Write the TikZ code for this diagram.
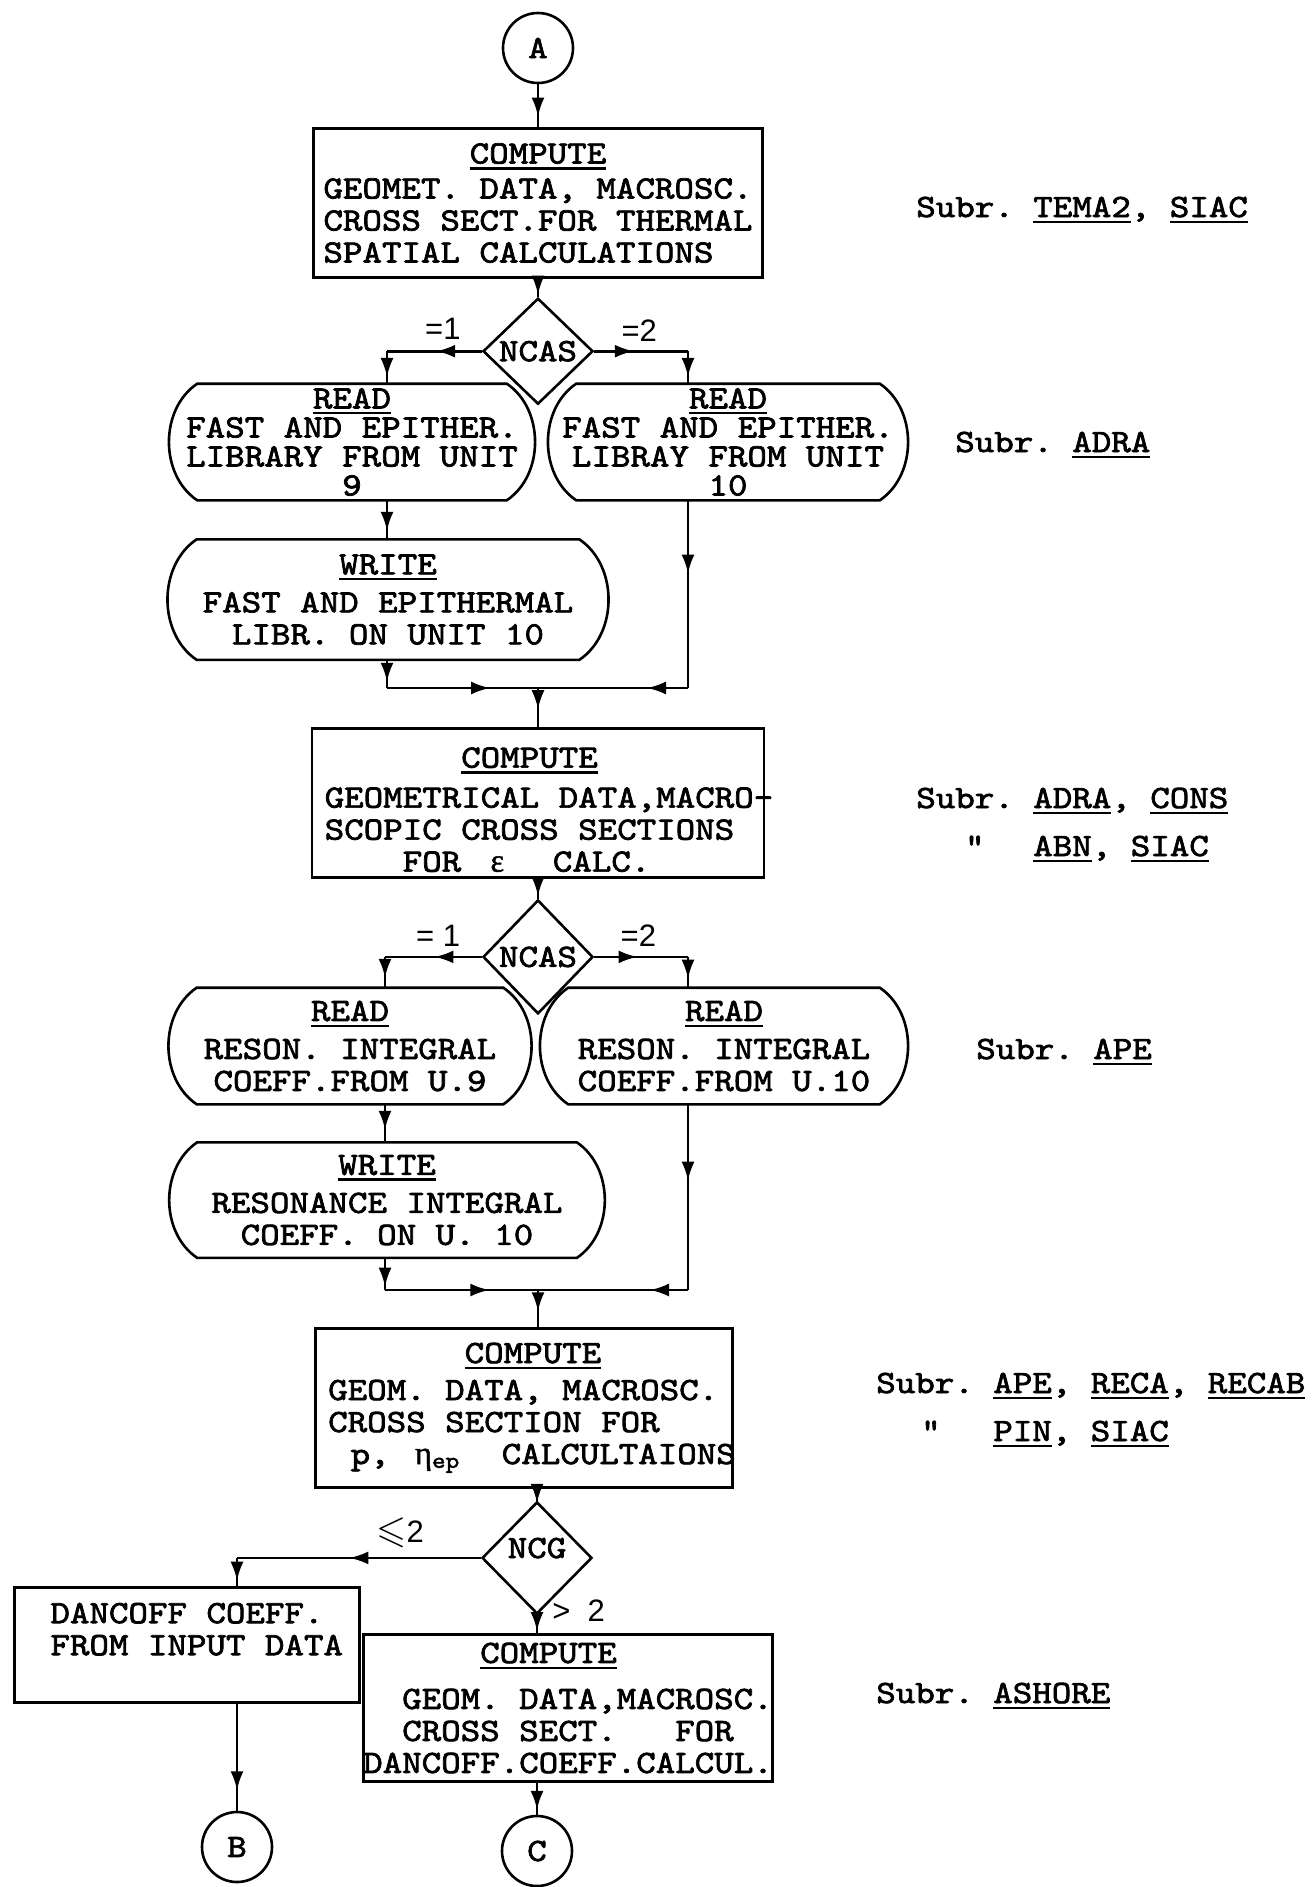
\documentclass[tikz,border=0pt]{standalone}
\usepackage{fontspec}
\usepackage{amssymb}
\newfontfamily\tw[FakeStretch=1.143, FakeBold=2.2]{lmmono10-regular.otf}
\newfontfamily\gk[FakeBold=1.5]{Liberation Serif}
\newfontfamily\hw{Liberation Sans}
\usetikzlibrary{arrows.meta, positioning, shapes.geometric, decorations.markings}
\newlength\chw
\setlength\chw{19.5pt}
\newcommand\ind[1]{\hspace*{#1\chw}}
\newcommand\ul[1]{\setbox0\hbox{#1}\rlap{\rule[-6pt]{\wd0}{2.4pt}}\box0}
\begin{document}
\frenchspacing
\begin{tikzpicture}[x=1pt, y=-1pt,
    line width=2.6pt,
    txt/.style={font=\tw\fontsize{32.5}{32}\selectfont},
    proc/.style={txt, draw, rectangle, inner sep=0pt, align=left},
    io/.style={txt, rectangle, inner sep=0pt, minimum height=114pt, align=center},
    test/.style={txt, draw, diamond, inner sep=0pt, minimum width=110pt},
    conn/.style={txt, draw, circle, inner sep=0pt, minimum size=70pt},
    lbl/.style={font=\hw\fontsize{31}{31}\selectfont, inner sep=0pt},
    note/.style={txt, anchor=base west, inner sep=0pt},
    arr/.style={postaction={decorate}, decoration={markings, mark=at position #1 with {\pgftransformxshift{9.5pt}\arrow{Latex[length=19pt, width=13pt]}}}},
    arr/.default=0.5,
  ]
  \useasboundingbox (0,0) rectangle (1314,1887);

  % columns of the side branches
  \coordinate (c1l) at (387,0);
  \coordinate (c1r) at (688,0);
  \coordinate (c2l) at (385,0);
  \coordinate (c2r) at (688,0);
  \coordinate (c3) at (237,0);

  % thermal part
  \node[conn] (A) at (538,48) {A};
  \node[proc, below=43pt of A, minimum width=449pt, minimum height=149pt] (b1)
    {\ind{7.5}\ul{COMPUTE}\\[3pt]GEOMET. DATA, MACROSC.\\CROSS SECT.FOR THERMAL\\SPATIAL CALCULATIONS};
  \node[test, below=18pt of b1, minimum height=106pt] (d1) {NCAS};
  \node[io, font=\tw\fontsize{32.5}{29}\selectfont, minimum width=367pt] (rl1) at (352,442)
    {\ul{READ}\\FAST AND EPITHER.\\LIBRARY FROM UNIT\\9};
  \node[io, font=\tw\fontsize{32.5}{29}\selectfont, minimum width=361pt] (rr1) at (728,442)
    {\ul{READ}\\FAST AND EPITHER.\\LIBRAY FROM UNIT\\10};
  \node[io, below=39pt of rl1, xshift=36pt, minimum width=440pt, minimum height=118pt] (wl1)
    {\ul{WRITE}\\[6pt]FAST AND EPITHERMAL\\LIBR. ON UNIT 10};
  \coordinate (m1) at (538,688);

  \draw[arr=0.53] (A) -- (b1);
  \draw[arr=0.35] (b1) -- (d1);
  \draw[arr=0.38] (d1.west) -- node[lbl, above=10pt, pos=0.41] (e1) {=1} (d1.west -| c1l);
  \draw[arr] (d1.west -| c1l) -- (c1l |- rl1.north);
  \draw[arr=0.32] (d1.east) -- node[lbl, above=8pt, pos=0.48] (e2) {=2} (d1.east -| c1r);
  \draw[arr] (d1.east -| c1r) -- (c1r |- rr1.north);
  \draw[arr=0.54] (c1l |- rl1.south) -- (c1l |- wl1.north);
  \draw[arr=0.44] (c1l |- wl1.south) -- (c1l |- m1);
  \draw[arr=0.62] (c1l |- m1) -- (m1);
  \draw[arr=0.34] (c1r |- rr1.south) -- (c1r |- m1);
  \draw[arr=0.21] (c1r |- m1) -- (m1);

  % epsilon part
  \node[proc, below=39pt of m1, minimum width=452pt, minimum height=149pt] (b2)
    {\ind{7}\rule{0pt}{34pt}\ul{COMPUTE}\\[8pt]GEOMETRICAL DATA,MACRO-\kern-22pt\\SCOPIC CROSS SECTIONS\\\ind{4}FOR\ind{1.5}{\gk ε}\ind{2.5}CALC.};
  \node[test, below=20pt of b2, minimum height=114pt] (d2) {NCAS};
  \node[io, minimum width=364pt] (rl2) at (350,1046)
    {\ul{READ}\\[6pt]RESON. INTEGRAL\\COEFF.FROM U.9};
  \node[io, minimum width=369pt] (rr2) at (724,1046)
    {\ul{READ}\\[6pt]RESON. INTEGRAL\\COEFF.FROM U.10};
  \node[io, below=38pt of rl2, xshift=37pt, minimum width=437pt, minimum height=113pt] (wl2)
    {\ul{WRITE}\\[6pt]RESONANCE INTEGRAL\\COEFF. ON U. 10};
  \coordinate (m2) at (538,1290);

  % outlines of the read and write boxes
  \foreach \n in {rl1,rr1,wl1,rl2,rr2,wl2}
    \draw ([xshift=30pt]\n.north west) -- ([xshift=-30pt]\n.north east)
      to[bend left=56] ([xshift=-30pt]\n.south east) -- ([xshift=30pt]\n.south west)
      to[bend left=56] ([xshift=30pt]\n.north west) -- cycle;

  \draw[arr=0.3] (m1) -- (b2);
  \draw[arr=0.4] (b2) -- (d2);
  \draw[arr=0.39] (d2.west) -- node[lbl, above=9pt, pos=0.45] (e3) {= 1} (d2.west -| c2l);
  \draw[arr=0.37] (d2.west -| c2l) -- (c2l |- rl2.north);
  \draw[arr=0.36] (d2.east) -- node[lbl, above=9pt, pos=0.47] (e4) {=2} (d2.east -| c2r);
  \draw[arr=0.4] (d2.east -| c2r) -- (c2r |- rr2.north);
  \draw[arr=0.42] (c2l |- rl2.south) -- (c2l |- wl2.north);
  \draw[arr=0.6] (c2l |- wl2.south) -- (c2l |- m2);
  \draw[arr=0.62] (c2l |- m2) -- (m2);
  \draw[arr=0.36] (c2r |- rr2.south) -- (c2r |- m2);
  \draw[arr=0.19] (c2r |- m2) -- (m2);

  % p and eta part
  \node[proc, below=37pt of m2, xshift=-14pt, minimum width=417pt, minimum height=159pt] (b3)
    {\ind{7}\ul{COMPUTE}\\[5pt]GEOM. DATA, MACROSC.\\CROSS SECTION FOR\\\makebox[8.9\chw][l]{\ind{1.15}p,\ind{1.3}{\gk η}\textsubscript{ep}}CALCULTAIONS\kern-16pt};
  \node[test, below=12pt of b3, xshift=13pt, minimum height=112pt, text depth=20pt] (d3) {NCG};
  \node[proc, minimum width=345pt, minimum height=115pt] (dc) at (187,1645)
    {DANCOFF COEFF.\\FROM INPUT DATA\kern-20pt\\[0pt]\mbox{}};
  \node[proc, below=18pt of d3, xshift=31pt, minimum width=398pt, minimum height=147pt] (b4)
    {\ind{6}\ul{COMPUTE}\\[14pt]\ind{2}GEOM. DATA,MACROSC.\\\ind{2}CROSS SECT.\ind{3}FOR\\DANCOFF.COEFF.CALCUL.};
  \node[conn] (B) at (237,1847) {B};
  \node[conn] (C) at (537,1851) {C};

  \draw[arr=0.32] (m2) -- (m2 |- b3.north);
  \draw[arr=0.4] (b3.south -| d3) -- (d3.north);
  \draw[arr=0.5] (d3.west) -- node[lbl, above=9pt, pos=0.33] (e5) {\scalebox{1.25}{$\leqslant$}2} (d3.west -| c3);
  \draw[arr=0.47] (d3.west -| c3) -- (c3 |- dc.north);
  \draw[arr=0.35] (d3.south) -- (d3.south |- b4.north);
  \node[lbl, right=14pt of d3.south, yshift=5pt] (e6) {>~~2};
  \draw[arr=0.72] (c3 |- dc.south) -- (B);
  \draw[arr=0.55] (b4.south -| C) -- (C);

  % subroutine notes
  \node[note] (s1) at (915,217) {Subr. \ul{TEMA2}, \ul{SIAC}};
  \node[note] (s2) at (954,452) {Subr. \ul{ADRA}};
  \node[note] (s3) at (915,808) {Subr. \ul{ADRA}, \ul{CONS}};
  \node[note] (s3b) at (915,856) {\ind{2.5}"\ind{2.5}\ul{ABN}, \ul{SIAC}};
  \node[note] (s4) at (975,1059) {Subr. \ul{APE}};
  \node[note] (s5) at (875,1393) {Subr. \ul{APE}, \ul{RECA}, \ul{RECAB}};
  \node[note] (s5b) at (875,1441) {\ind{2.3}"\ind{2.7}\ul{PIN}, \ul{SIAC}};
  \node[note] (s6) at (875,1703) {Subr. \ul{ASHORE}};
\end{tikzpicture}
\end{document}
